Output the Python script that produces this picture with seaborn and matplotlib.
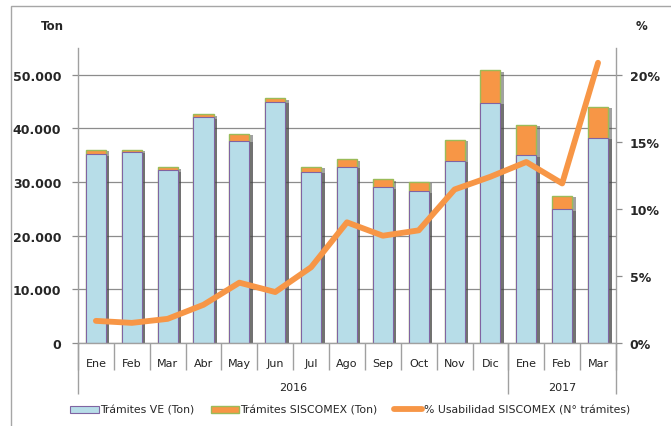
import numpy as np
import pandas as pd
import matplotlib
matplotlib.use("Agg")
from matplotlib import pyplot
import matplotlib.ticker as mtick
import matplotlib.patheffects as pe
from matplotlib.patches import Patch, Rectangle
from matplotlib.lines import Line2D
import seaborn as sns

sns.set_style("white")
pyplot.rcParams['font.family'] = ['DejaVu Sans']

#################################################################
meses = ["Ene", "Feb", "Mar", "Abr", "May", "Jun", "Jul", "Ago", "Sep", "Oct", "Nov", "Dic",
         "Ene", "Feb", "Mar"]
anios = ["2016"] * 12 + ["2017"] * 3
tramites_ve = [35200, 35600, 32200, 42100, 37700, 45000, 31900, 32900, 29000, 28250, 34000, 44800,
               35000, 24900, 38300]
tramites_siscomex = [870, 450, 560, 550, 1250, 610, 930, 1350, 1490, 1860, 3850, 6080,
                     5700, 2530, 5760]
usabilidad = [1.65, 1.5, 1.8, 2.85, 4.5, 3.8, 5.65, 9.0, 8.0, 8.4, 11.45, 12.4, 13.5, 11.9, 20.9]

azul = "#B7DDE8"
naranja = "#F79646"

df = pd.DataFrame({"mes": meses, "anio": anios, "ve": tramites_ve, "siscomex": tramites_siscomex,
                   "usab": usabilidad})
df["periodo"] = df["mes"] + " " + df["anio"]
df["total"] = df["ve"] + df["siscomex"]
df["pos"] = np.arange(len(df))

fig = pyplot.figure(figsize=(6.71, 4.27), dpi=100)
ax = fig.add_axes([0.1162, 0.1944, 0.918 - 0.1162, 0.8852 - 0.1944])

# stacked bars: total first, VE on top
sns.barplot(data=df, x="periodo", y="total", color=naranja, saturation=1, width=0.56,
            edgecolor="#9BBB59", linewidth=1.0, ax=ax)
sns.barplot(data=df, x="periodo", y="ve", color=azul, saturation=1, width=0.56,
            edgecolor="#8064A2", linewidth=0.8, ax=ax)
for p in ax.patches:
    p.set_path_effects([pe.SimplePatchShadow(offset=(2.5, -1), shadow_rgbFace="#444444", alpha=0.5),
                        pe.Normal()])

ax.set_ylim(0, 55000)
ax.set_xlim(-0.5, len(df) - 0.5)
ax.yaxis.set_major_locator(mtick.MultipleLocator(10000))
ax.yaxis.set_major_formatter(mtick.FuncFormatter(lambda y, _: '{:,.0f}'.format(y).replace(",", ".")))
ax.yaxis.grid(True, color="#8c8c8c", linewidth=0.9)
ax.set_axisbelow(True)
ax.set_xlabel("")
ax.set_ylabel("")
ax.set_xticks(df["pos"])
ax.set_xticklabels(meses, fontsize=8, color="#222222")
ax.tick_params(axis="x", length=0, pad=11)
ax.tick_params(axis="y", length=4, width=0.9, color="#8c8c8c", pad=8, labelsize=9)
for lab in ax.get_yticklabels():
    lab.set_fontweight("bold")
for s in ["top", "right"]:
    ax.spines[s].set_visible(False)
for s in ["left", "bottom"]:
    ax.spines[s].set_color("#a0a0a0")
    ax.spines[s].set_linewidth(1.0)

# separators below x axis
sep_mes = np.arange(len(df) + 1) - 0.5
ax.vlines(sep_mes, -0.092, 0, transform=ax.get_xaxis_transform(), clip_on=False,
          color="#a0a0a0", linewidth=1.0)
sep_anio = [-0.5, 11.5, len(df) - 0.5]
ax.vlines(sep_anio, -0.173, 0, transform=ax.get_xaxis_transform(), clip_on=False,
          color="#a0a0a0", linewidth=1.0)
for anio, grp in df.groupby("anio"):
    ax.text(grp["pos"].mean(), -0.148, anio, transform=ax.get_xaxis_transform(),
            ha="center", va="center", fontsize=8, color="#222222")

# line on secondary axis
ax2 = ax.twinx()
sns.lineplot(x=df["pos"], y=df["usab"], color=naranja, linewidth=4.2, ax=ax2, sort=False)
ax2.set_ylim(0, 22)
ax2.yaxis.set_major_locator(mtick.MultipleLocator(5))
ax2.yaxis.set_major_formatter(mtick.FuncFormatter(lambda y, _: '{:.0f}%'.format(y)))
ax2.set_ylabel("")
ax2.tick_params(axis="y", length=4, width=0.9, color="#8c8c8c", pad=6, labelsize=9)
for lab in ax2.get_yticklabels():
    lab.set_fontweight("bold")
for s in ["top", "left", "bottom"]:
    ax2.spines[s].set_visible(False)
ax2.spines["right"].set_color("#a0a0a0")
ax2.spines["right"].set_linewidth(1.0)
ax2.grid(False)

fig.text(52 / 671, 1 - 26 / 427, "Ton", ha="center", va="center", fontsize=8.5, fontweight="bold")
fig.text(641 / 671, 1 - 26 / 427, "%", ha="center", va="center", fontsize=8.5, fontweight="bold")

handles = [Patch(facecolor=azul, edgecolor="#8064A2", linewidth=0.8),
           Patch(facecolor=naranja, edgecolor="#9BBB59", linewidth=1.0),
           Line2D([], [], color=naranja, linewidth=4.2)]
labels = ["Trámites VE (Ton)", "Trámites SISCOMEX (Ton)", "% Usabilidad SISCOMEX (N° trámites)"]
fig.legend(handles, labels, loc="center", bbox_to_anchor=(0.522, 1 - 411 / 427), ncol=3,
           frameon=False, fontsize=7.8, handlelength=2.6, handleheight=0.6, handletextpad=0.15,
           columnspacing=1.5)

fig.patches.append(Rectangle((11 / 671, -0.05), 1.0, 1 - 7 / 427 + 0.05, transform=fig.transFigure,
                             fill=False, edgecolor="#a6a6a6", linewidth=1.0))

pyplot.savefig("out.png", dpi=100)
